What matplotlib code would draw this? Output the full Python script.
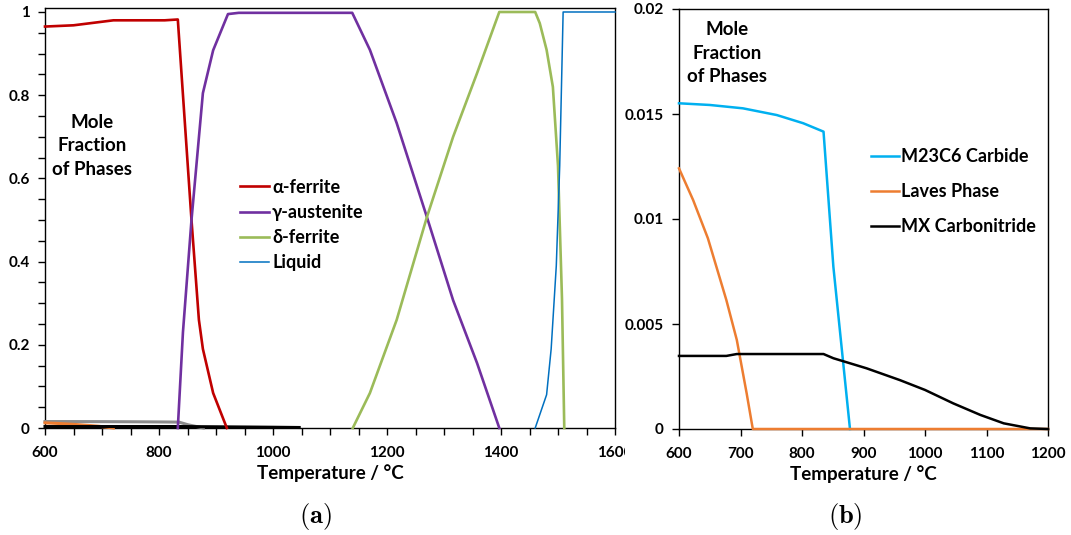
import matplotlib
matplotlib.use("Agg")
import matplotlib.pyplot as plt
from matplotlib.ticker import MultipleLocator, FuncFormatter
from matplotlib.transforms import Bbox, TransformedBbox

plt.rcParams['font.family'] = ['Lato', 'DejaVu Sans']
plt.rcParams['font.weight'] = 'bold'
plt.rcParams['mathtext.fontset'] = 'cm'

# ---- (a) major phases, mole fraction vs temperature (degC) ----
alpha_T = [600, 650, 720, 810, 833, 857, 870, 877, 895, 919]
alpha_v = [0.965, 0.968, 0.980, 0.980, 0.982, 0.50, 0.26, 0.19, 0.084, 0.0]

gamma_T = [833, 842, 857, 877, 895, 921, 940, 1139, 1170, 1217, 1270, 1316, 1358, 1397]
gamma_v = [0.0, 0.23, 0.50, 0.805, 0.908, 0.995, 0.998, 0.998, 0.909, 0.733, 0.507, 0.307, 0.156, 0.0]

delta_T = [1140, 1170, 1217, 1270, 1316, 1358, 1397, 1460, 1468, 1480, 1491, 1500, 1507, 1511]
delta_v = [0.0, 0.084, 0.26, 0.507, 0.70, 0.853, 1.0, 1.0, 0.973, 0.909, 0.82, 0.63, 0.31, 0.0]

liquid_T = [1460, 1480, 1488, 1497, 1503, 1509, 1600]
liquid_v = [0.0, 0.08, 0.19, 0.39, 0.63, 1.0, 1.0]

# ---- (b) minor phases ----
m23c6_T = [600, 650, 704, 759, 802, 835, 851, 878]
m23c6_v = [0.01551, 0.01543, 0.01527, 0.01495, 0.01456, 0.01416, 0.00773, 0.0]

laves_T = [600, 623, 647, 677, 694, 710, 720, 1200]
laves_v = [0.01241, 0.0109, 0.00908, 0.00614, 0.00424, 0.0017, 0.0, 0.0]

mx_T = [600, 677, 694, 835, 851, 905, 959, 1000, 1046, 1090, 1128, 1171, 1200]
mx_v = [0.00348, 0.00348, 0.00357, 0.00357, 0.00337, 0.00289, 0.00233, 0.00186,
        0.00122, 0.00067, 0.00027, 0.00003, 0.0]

fig = plt.figure(figsize=(10.71, 5.35), dpi=100)
W, H = 1071, 535

def px_axes(x0, x1, y0, y1):
    return fig.add_axes([x0 / W, 1 - y1 / H, (x1 - x0) / W, (y1 - y0) / H])

ax1 = px_axes(45, 615, 8, 428)
ax2 = px_axes(679, 1048, 9, 429)

def gfmt(v, pos):
    return ('%g' % v)

for ax in (ax1, ax2):
    for s in ax.spines.values():
        s.set_linewidth(1.0)
        s.set_color('black')
    ax.tick_params(which='both', direction='out', length=5, width=1,
                   labelsize=11)
    ax.tick_params(axis='x', which='both', pad=8)
    ax.tick_params(axis='y', which='both', pad=6)
    ax.yaxis.set_major_formatter(FuncFormatter(gfmt))

LINE = dict(zorder=3, clip_on=False, solid_joinstyle='round')

# panel (a)
ax1.plot(m23c6_T, m23c6_v, color='#8c8c8c', lw=2.2, **LINE)
ax1.plot(laves_T[:7], laves_v[:7], color='#ED7D31', lw=2.2, **LINE)
ax1.plot(mx_T[:9], mx_v[:9], color='black', lw=2.2, **LINE)
ax1.plot(alpha_T, alpha_v, color='#C00000', lw=1.9, label='α-ferrite', **LINE)
ax1.plot(gamma_T, gamma_v, color='#7030A0', lw=1.9, label='γ-austenite', **LINE)
ax1.plot(delta_T, delta_v, color='#9BBB59', lw=1.9, label='δ-ferrite', **LINE)
ax1.plot(liquid_T, liquid_v, color='#0070C0', lw=1.1, label='Liquid', **LINE)
ax1.set_xlim(600, 1600)
ax1.set_ylim(0, 1.0096)
ax1.xaxis.set_major_locator(MultipleLocator(200))
ax1.xaxis.set_minor_locator(MultipleLocator(50))
ax1.yaxis.set_major_locator(MultipleLocator(0.2))
ax1.yaxis.set_minor_locator(MultipleLocator(0.05))
ax1.set_xlabel('Temperature / °C', fontsize=13.5, fontweight='bold', labelpad=3)
h, l = ax1.get_legend_handles_labels()
ax1.legend(h[-4:], l[-4:], loc='upper left', bbox_to_anchor=(0.327, 0.615),
           frameon=False, borderpad=0, handlelength=1.6, handletextpad=0.15,
           labelspacing=0.45, prop={'size': 13, 'weight': 'bold'})
ax1.text(0.082, 0.672, 'Mole\nFraction\nof Phases', transform=ax1.transAxes,
         ha='center', va='center', fontsize=13.5, fontweight='bold', linespacing=1.45)

# clip the last x tick label at the panel gap
fig.canvas.draw()
clip = TransformedBbox(Bbox([[0, 0], [625 / W, 1]]), fig.transFigure)
for t in ax1.xaxis.get_major_ticks():
    t.label1.set_clip_box(clip)
    t.label1.set_clip_on(True)

# panel (b)
ax2.plot(m23c6_T, m23c6_v, color='#00B0F0', lw=1.8, label='M23C6 Carbide', **LINE)
ax2.plot(laves_T, laves_v, color='#ED7D31', lw=1.8, label='Laves Phase', **LINE)
ax2.plot(mx_T, mx_v, color='black', lw=1.8, label='MX Carbonitride', **LINE)
ax2.set_xlim(600, 1200)
ax2.set_ylim(0, 0.02)
ax2.xaxis.set_major_locator(MultipleLocator(100))
ax2.yaxis.set_major_locator(MultipleLocator(0.005))
ax2.set_xlabel('Temperature / °C', fontsize=13.5, fontweight='bold', labelpad=3)
ax2.legend(loc='upper left', bbox_to_anchor=(0.495, 0.69),
           frameon=False, borderpad=0, handlelength=1.55, handletextpad=0.15,
           labelspacing=1.0, prop={'size': 13, 'weight': 'bold'})
ax2.text(0.13, 0.895, 'Mole\nFraction\nof Phases', transform=ax2.transAxes,
         ha='center', va='center', fontsize=13.5, fontweight='bold', linespacing=1.45)

for ax in (ax1, ax2):
    for lbl in ax.get_xticklabels() + ax.get_yticklabels():
        lbl.set_fontweight('bold')

fig.text(315 / W, 1 - 517 / H, r'$\mathbf{(a)}$', ha='center', va='center', fontsize=19)
fig.text(845 / W, 1 - 517 / H, r'$\mathbf{(b)}$', ha='center', va='center', fontsize=19)

fig.savefig('out.png', dpi=100)
